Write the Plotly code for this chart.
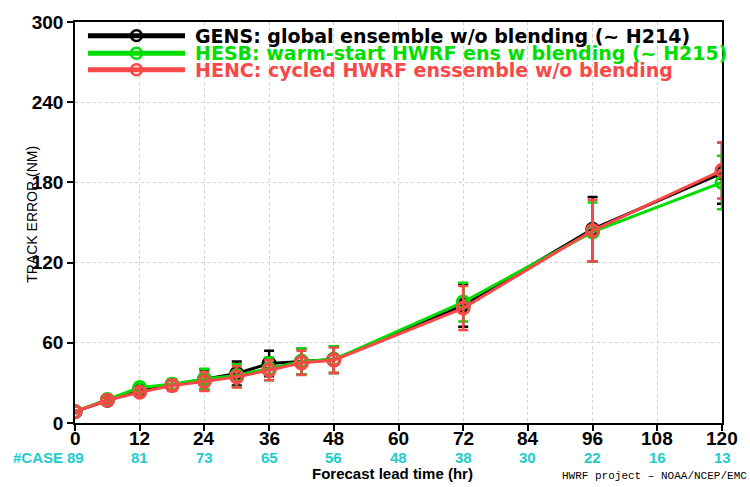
import plotly.graph_objects as go

lead_hours = [0, 6, 12, 18, 24, 30, 36, 42, 48, 72, 96, 120]
gens_err = [8.5, 17, 25, 28.5, 32.5, 37, 44.5, 46, 47.5, 88, 145, 187]
gens_ci = [1, 2, 3, 4, 7.5, 9, 9.5, 9.5, 10, 16, 24, 23]
hesb_err = [8.5, 17.5, 26.5, 29, 33, 35.5, 40.5, 46, 47.5, 90.5, 143, 180]
hesb_ci = [1, 2, 3, 4, 7.5, 8.5, 8.5, 9.5, 10, 14.5, 22, 20]
henc_err = [8.5, 17, 23, 28, 31, 34.5, 39.5, 45, 47, 86, 144, 189]
henc_ci = [1, 2, 3, 4, 7, 8, 7.5, 9, 9.5, 16.5, 23, 21]

case_hours = [0, 12, 24, 36, 48, 60, 72, 84, 96, 108, 120]
case_counts = [89, 81, 73, 65, 56, 48, 38, 30, 22, 16, 13]
x_tick_labels = ["0", "12", "24", "36", "48", "60", "72", "84", "96", "108", "120"]

series_names = [
    "GENS: global ensemble w/o blending (~ H214)",
    "HESB: warm-start HWRF ens w blending (~ H215)",
    "HENC: cycled HWRF enssemble w/o blending",
]
colors = ["#000000", "#00dd00", "#f84848"]

FONT = "Liberation Sans"
LEGFONT = "DejaVu Sans"
CYAN = "#22cccc"
fig = go.Figure()
for name, ys, ci, col in zip(series_names, [gens_err, hesb_err, henc_err],
                             [gens_ci, hesb_ci, henc_ci], colors):
    fig.add_trace(go.Scatter(
        x=lead_hours, y=ys, name=name, mode="lines+markers",
        line=dict(color=col, width=3),
        marker=dict(symbol="circle-open", size=12, color=col, line=dict(width=3, color=col)),
        error_y=dict(type="data", array=ci, color=col, thickness=2.5, width=5, visible=True),
        showlegend=False,
    ))

# manual legend
leg_y = [0.966, 0.922, 0.881]
for name, col, yy in zip(series_names, colors, leg_y):
    fig.add_shape(type="line", xref="paper", yref="paper", x0=0.02, x1=0.17, y0=yy, y1=yy,
                  line=dict(color=col, width=5))
    fig.add_shape(type="circle", xref="paper", yref="paper", x0=0.095 - 0.0085, x1=0.095 + 0.0085,
                  y0=yy - 0.0135, y1=yy + 0.0135, line=dict(color=col, width=2.5))
    fig.add_annotation(xref="paper", yref="paper", x=0.183, y=yy, text=name, showarrow=False,
                       xanchor="left", yanchor="middle",
                       font=dict(family=LEGFONT, size=19, color=col, weight="bold"))

# x tick labels and case counts
for h, lab, c in zip(case_hours, x_tick_labels, case_counts):
    fig.add_annotation(x=h, xref="x", yref="paper", y=-0.039, text=lab, showarrow=False,
                       yanchor="middle", font=dict(family=FONT, size=19, color="black", weight="bold"))
    fig.add_annotation(x=h, xref="x", yref="paper", y=-0.087, text=str(c), showarrow=False,
                       yanchor="middle", font=dict(family=FONT, size=15, color=CYAN, weight="bold"))
fig.add_annotation(xref="paper", yref="paper", x=-0.099, y=-0.087, text="#CASE", showarrow=False,
                   xanchor="left", yanchor="middle",
                   font=dict(family=FONT, size=15, color=CYAN, weight="bold"))
fig.add_annotation(xref="paper", yref="paper", x=0.49, y=-0.127, text="Forecast lead time (hr)",
                   showarrow=False, xanchor="center", yanchor="middle",
                   font=dict(family=FONT, size=15, color="#000000", weight="bold"))
fig.add_annotation(xref="paper", yref="paper", x=0.75, y=-0.1326, text="HWRF project \u2013 NOAA/NCEP/EMC",
                   showarrow=False, xanchor="left", yanchor="middle",
                   font=dict(family="Liberation Mono", size=11, color="#000000"))
fig.add_annotation(xref="paper", yref="paper", x=-0.066, y=0.52, text="TRACK ERROR (NM)",
                   showarrow=False, textangle=-90, xanchor="center", yanchor="middle",
                   font=dict(family=FONT, size=14, color="#000000"))

fig.update_layout(
    width=750, height=487,
    margin=dict(l=75, r=28, t=13, b=64),
    paper_bgcolor="white", plot_bgcolor="white",
    font=dict(family=FONT, color="black"),
)
fig.update_xaxes(range=[0, 120], tickvals=case_hours, ticks="outside", ticklen=6, tickwidth=1.5,
                 tickcolor="black", showline=True, linecolor="black", linewidth=1.5, mirror=True,
                 showgrid=True, gridcolor="#d0d0d0", griddash="dot", gridwidth=1, zeroline=False,
                 showticklabels=False)
fig.update_yaxes(range=[0, 300], tickvals=[0, 60, 120, 180, 240, 300],
                 ticktext=["0", "60", "120", "180", "240", "300"], ticks="outside", ticklen=6,
                 tickwidth=1.5, tickcolor="black", showline=True, linecolor="black", linewidth=1.5,
                 mirror=True, showgrid=True, gridcolor="#d0d0d0", griddash="dot", gridwidth=1,
                 zeroline=False, tickfont=dict(family=FONT, size=19, color="black", weight="bold"))

fig.write_html("out.html")
